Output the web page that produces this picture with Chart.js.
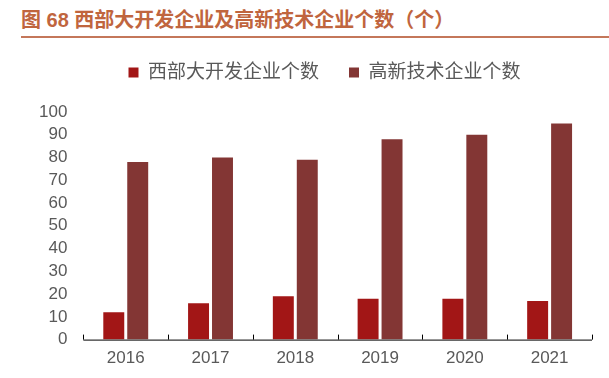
<!DOCTYPE html>
<html>
<head>
<meta charset="utf-8">
<script src="https://cdn.jsdelivr.net/npm/chart.js@4.4.0/dist/chart.umd.min.js"></script>
<style>
  body { margin: 0; width: 609px; height: 378px; background: #fff; overflow: hidden; position: relative; }
  #title {
    position: absolute; left: 21px; top: 8px; right: 0;
    font-family: "Liberation Sans", "Noto Sans CJK SC", sans-serif;
    font-weight: bold; font-size: 20px; color: #c0653e;
    padding-bottom: 4px; border-bottom: 2.5px solid #c4775a; line-height: 24px;
  }
  #wrap { position: absolute; left: 0; top: 33px; width: 609px; height: 345px; }
</style>
</head>
<body>
<div id="title">图 68 西部大开发企业及高新技术企业个数（个）</div>
<div id="wrap"><canvas id="myChart"></canvas></div>
<script>
var years = ['2016', '2017', '2018', '2019', '2020', '2021'];
var westCount = [12, 16, 19, 18, 18, 17];
var hightechCount = [78, 80, 79, 88, 90, 95];
var yTicks = [0, 10, 20, 30, 40, 50, 60, 70, 80, 90, 100];

// ticks pointing up from the x axis, at category boundaries
var upTicks = {
    id: 'upTicks',
    afterDatasetsDraw: function (chart) {
        var x = chart.scales.x, ctx = chart.ctx;
        var y0 = chart.scales.y.getPixelForValue(0);
        var half = (x.getPixelForValue(1) - x.getPixelForValue(0)) / 2;
        ctx.save();
        ctx.strokeStyle = '#000';
        ctx.lineWidth = 1;
        ctx.beginPath();
        ctx.moveTo(x.left, y0 + 0.5);
        ctx.lineTo(x.right, y0 + 0.5);
        for (var i = 0; i <= years.length; i++) {
            var px = Math.round(x.getPixelForValue(i) - half) + 0.5;
            ctx.moveTo(px, y0);
            ctx.lineTo(px, y0 - 5);
        }
        ctx.stroke();
        ctx.restore();
    }
};

// more room under the legend, and nudge it a bit to the right
var legendSpace = {
    id: 'legendSpace',
    beforeInit: function (chart) {
        var origFit = chart.legend.fit;
        chart.legend.fit = function () {
            origFit.call(this);
            this.height += 20;
        };
    },
    afterLayout: function (chart) {
        chart.legend.left += 17;
        chart.legend.right += 17;
    }
};

var ctx = document.getElementById('myChart').getContext('2d');
var myChart = new Chart(ctx, {
    type: 'bar',
    data: {
        labels: years,
        datasets: [{
            label: '西部大开发企业个数',
            data: westCount,
            backgroundColor: '#a21616'
        }, {
            label: '高新技术企业个数',
            data: hightechCount,
            backgroundColor: '#833634'
        }]
    },
    options: {
        responsive: true,
        maintainAspectRatio: false,
        animation: false,
        categoryPercentage: 0.565,
        barPercentage: 0.875,
        layout: { padding: { left: 23, right: 17, top: 0, bottom: 0 } },
        plugins: {
            legend: {
                position: 'top',
                labels: {
                    boxWidth: 10, boxHeight: 10, padding: 30,
                    color: '#595959',
                    font: { size: 19, family: '"Liberation Sans", "Noto Sans CJK SC", sans-serif' }
                }
            },
            tooltip: { enabled: false }
        },
        scales: {
            x: {
                grid: { display: false, drawTicks: false },
                border: { display: false },
                ticks: {
                    color: '#595959', padding: 9,
                    font: { size: 17, family: '"Liberation Sans", sans-serif' }
                }
            },
            y: {
                min: 0, max: 100,
                afterBuildTicks: function (scale) {
                    scale.ticks = yTicks.map(function (v) { return { value: v }; });
                },
                grid: { display: false, drawTicks: false },
                border: { display: false },
                ticks: {
                    color: '#595959', padding: 16, autoSkip: false,
                    font: { size: 17, family: '"Liberation Sans", sans-serif' }
                }
            }
        }
    },
    plugins: [upTicks, legendSpace]
});
</script>
</body>
</html>
